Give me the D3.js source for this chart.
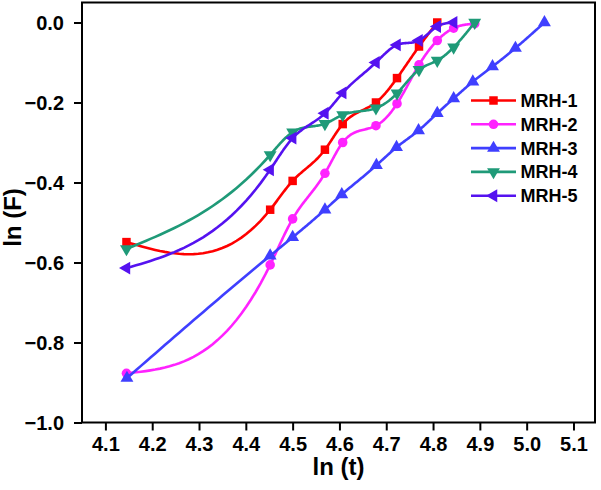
<!DOCTYPE html>
<html><head><meta charset="utf-8">
<script src="https://cdn.jsdelivr.net/npm/d3@7"></script>
<style>body{margin:0;background:#fff}svg{display:block}text{font-family:"Liberation Sans",Arial,sans-serif;font-weight:bold}</style>
</head><body>
<svg id="c" width="601" height="490"></svg>
<script>
const seriesNames = ["MRH-1","MRH-2","MRH-3","MRH-4","MRH-5"];
const colors = ["#ff0000","#ff22ff","#3f3fff","#1f9a78","#5512f0"];
const xShared = [4.145, 4.452, 4.500, 4.569, 4.607, 4.678, 4.723, 4.770, 4.809, 4.844, 4.889];
const x3 = [4.146, 4.452, 4.500, 4.569, 4.605, 4.679, 4.722, 4.769, 4.809, 4.844, 4.885, 4.927, 4.976, 5.038];
const yMRH1 = [-0.549, -0.468, -0.396, -0.318, -0.254, -0.200, -0.139, -0.060, 0.000];
const yMRH2 = [-0.877, -0.606, -0.491, -0.377, -0.300, -0.258, -0.203, -0.106, -0.045, -0.014, -0.003];
const yMRH3 = [-0.889, -0.583, -0.537, -0.468, -0.430, -0.357, -0.312, -0.270, -0.227, -0.190, -0.148, -0.110, -0.064, 0.000];
const yMRH4 = [-0.566, -0.331, -0.274, -0.253, -0.231, -0.214, -0.177, -0.118, -0.095, -0.062, 0.000];
const yMRH5 = [-0.614, -0.368, -0.289, -0.227, -0.176, -0.100, -0.056, -0.045, -0.010, 0.000];
const xTicks = [4.1,4.2,4.3,4.4,4.5,4.6,4.7,4.8,4.9,5.0,5.1];
const yTicks = [0.0,-0.2,-0.4,-0.6,-0.8,-1.0];

const series = [
  {name:seriesNames[0], xs:xShared, ys:yMRH1, sym:d3.symbolSquare, rot:0, size:72},
  {name:seriesNames[1], xs:xShared, ys:yMRH2, sym:d3.symbolCircle, rot:0, size:72},
  {name:seriesNames[2], xs:x3, ys:yMRH3, sym:d3.symbolTriangle, rot:0, size:72},
  {name:seriesNames[3], xs:xShared, ys:yMRH4, sym:d3.symbolTriangle, rot:180, size:72},
  {name:seriesNames[4], xs:xShared, ys:yMRH5, sym:d3.symbolTriangle, rot:-90, size:72}
];

const L=82, R=595, T=2.5, B=422.5;
const x = d3.scaleLinear().domain([4.05, 5.146]).range([L, R]);
const y = d3.scaleLinear().domain([-1.0, 0.05]).range([B, T]);
const svg = d3.select("#c");

// natural cubic spline y(x)
function spline(xs, ys){
  const n = xs.length; if(n<3) return xs.map((v,i)=>[v,ys[i]]);
  const h=[], M=new Array(n).fill(0);
  for(let i=0;i<n-1;i++) h[i]=xs[i+1]-xs[i];
  const m=n-2, A=[],Bd=[],C=[],D=[];
  for(let i=1;i<=m;i++){
    A.push(h[i-1]); Bd.push(2*(h[i-1]+h[i])); C.push(h[i]);
    D.push(6*((ys[i+1]-ys[i])/h[i]-(ys[i]-ys[i-1])/h[i-1]));
  }
  for(let i=1;i<m;i++){const w=A[i]/Bd[i-1]; Bd[i]-=w*C[i-1]; D[i]-=w*D[i-1];}
  const sol=new Array(m);
  sol[m-1]=D[m-1]/Bd[m-1];
  for(let i=m-2;i>=0;i--) sol[i]=(D[i]-C[i]*sol[i+1])/Bd[i];
  for(let i=0;i<m;i++) M[i+1]=sol[i];
  const pts=[];
  for(let i=0;i<n-1;i++){
    const steps=30;
    for(let k=0;k<(i===n-2?steps+1:steps);k++){
      const t=xs[i]+h[i]*k/steps;
      const A1=(xs[i+1]-t)/h[i], B1=(t-xs[i])/h[i];
      const v=A1*ys[i]+B1*ys[i+1]+((A1*A1*A1-A1)*M[i]+(B1*B1*B1-B1)*M[i+1])*h[i]*h[i]/6;
      pts.push([t,v]);
    }
  }
  return pts;
}

const line = d3.line().x(d=>x(d[0])).y(d=>y(d[1]));

series.forEach((s,i)=>{
  const xs = s.xs.slice(0, s.ys.length);
  svg.append("path").attr("d", line(spline(xs, s.ys)))
    .attr("fill","none").attr("stroke",colors[i]).attr("stroke-width",2.6);
  svg.selectAll(null).data(s.ys.map((v,j)=>[xs[j],v])).enter().append("path")
    .attr("d", d3.symbol().type(s.sym).size(s.size)())
    .attr("transform", d=>`translate(${x(d[0])},${y(d[1])}) rotate(${s.rot})`)
    .attr("fill",colors[i]);
});

// frame
svg.append("rect").attr("x",L).attr("y",T).attr("width",R-L).attr("height",B-T)
  .attr("fill","none").attr("stroke","#000").attr("stroke-width",2);

const xAxis = svg.append("g").attr("transform",`translate(0,${B})`)
  .call(d3.axisBottom(x).tickValues(xTicks).tickFormat(d3.format(".1f")).tickSize(8).tickPadding(6));
const yAxis = svg.append("g").attr("transform",`translate(${L},0)`)
  .call(d3.axisLeft(y).tickValues(yTicks).tickFormat(d3.format(".1f")).tickSize(8).tickPadding(10));
[xAxis,yAxis].forEach(g=>{
  g.select(".domain").remove();
  g.selectAll("line").attr("stroke","#000").attr("stroke-width",2);
  g.selectAll("text").attr("fill","#000").style("font-size","20px").style("font-family","Liberation Sans, Arial, sans-serif").style("font-weight","bold");
});
yAxis.selectAll("text").attr("dy","0.35em");

svg.append("text").attr("x",(L+R)/2).attr("y",475).attr("text-anchor","middle")
  .style("font-size","24px").text("ln (t)");
svg.append("text").attr("transform",`translate(21,${(T+B)/2+5}) rotate(-90)`).attr("text-anchor","middle")
  .style("font-size","24px").text("ln (F)");

// legend
const legY = [100.5,124.3,148.1,171.9,195.7];
series.forEach((s,i)=>{
  const g = svg.append("g");
  g.append("line").attr("x1",471).attr("x2",516).attr("y1",legY[i]).attr("y2",legY[i])
    .attr("stroke",colors[i]).attr("stroke-width",2.6);
  g.append("path").attr("d", d3.symbol().type(s.sym).size(s.size)())
    .attr("transform",`translate(493.5,${legY[i]}) rotate(${s.rot})`).attr("fill",colors[i]);
  g.append("text").attr("x",520.5).attr("y",legY[i]).attr("dy","0.36em")
    .style("font-size","18px").attr("fill","#000").text(s.name);
});
</script>
</body></html>
